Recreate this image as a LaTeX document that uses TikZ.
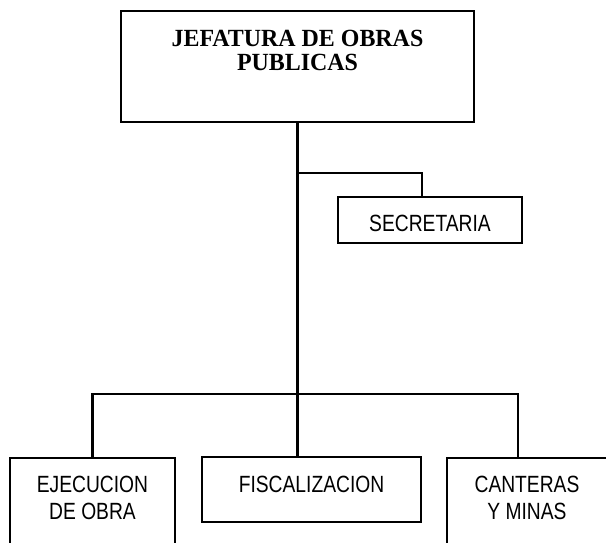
\documentclass[tikz,border=0pt]{standalone}
\usepackage{fontspec}
\newfontfamily\titlefont{Liberation Serif}[FakeStretch=0.97]
\newfontfamily\boxfont{Liberation Sans}[FakeStretch=0.82]

\begin{document}
\begin{tikzpicture}[x=0.75pt,y=-0.75pt,
  jefebox/.style={draw,line width=1.6pt,minimum width=264.75pt,minimum height=83.25pt,align=center,
    font=\titlefont\bfseries\fontsize{18.5}{18}\selectfont,text height=30pt,text depth=24.75pt},
  unitbox/.style={draw,line width=1pt,align=center,font=\boxfont\fontsize{17.6}{20.25}\selectfont},
  link/.style={line width=1.6pt}]
  \useasboundingbox (0,0) rectangle (606,542);
  \clip (0,0) rectangle (606,542);

  \draw (297.5,66.5) node[jefebox] (jefatura) {JEFATURA DE OBRAS\\PUBLICAS};
      \draw (430,220) node[unitbox,minimum width=138pt,minimum height=34.5pt,text height=16.5pt,text depth=0pt] (secretaria) {SECRETARIA};

  \draw (92.5,512) node[unitbox,minimum width=123.75pt,minimum height=81pt,text height=30pt,text depth=19.5pt] (ejecucion) {EJECUCION\\DE OBRA};
  \draw (311.5,489.5) node[unitbox,minimum width=164.25pt,minimum height=48.75pt,text height=12.75pt,text depth=9pt] (fiscalizacion) {FISCALIZACION};
  \draw (527,512) node[unitbox,minimum width=120pt,minimum height=81pt,text height=30pt,text depth=19.5pt] (canteras) {CANTERAS\\Y MINAS};

  \coordinate (secbend) at (422,173);
  \coordinate (barend) at (518,394);

    \draw[link] (jefatura.south) -- (jefatura.south |- fiscalizacion.north);
    \draw[link] (secbend -| jefatura.south) -- (secbend) -- (secretaria.north -| secbend);
    \draw[link] (ejecucion.north) |- (barend) -- (barend |- canteras.north);

\end{tikzpicture}
\end{document}
